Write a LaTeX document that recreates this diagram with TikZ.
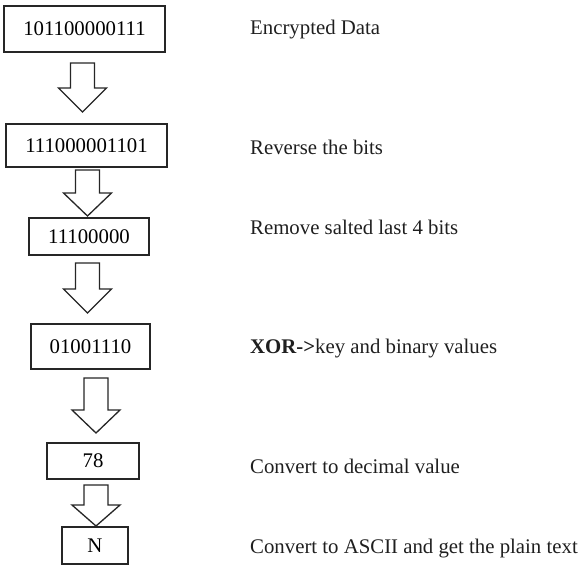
\documentclass[tikz,border=0pt]{standalone}
\usepackage{fontspec}
\setmainfont{Liberation Serif}
\usepackage{tikz}

\tikzset{
  stepbox/.style={draw=black!85, line width=1.3pt, inner sep=0pt,
    font=\fontsize{20.8}{24}\selectfont},
  steplabel/.style={anchor=base west, inner sep=0pt, text=black!88,
    font=\fontsize{20.8}{24}\selectfont},
  blockarrow/.style={draw=black!85, line width=1.3pt, fill=white}
}
% hollow down arrow: x, shaft top, head top, tip
\newcommand{\blkarrow}[4]{%
  \draw[blockarrow] ({#1-12},#2) -- ({#1+12},#2) -- ({#1+12},#3) -- ({#1+24},#3)
    -- (#1,#4) -- ({#1-24},#3) -- ({#1-12},#3) -- cycle;}

\begin{document}
\begin{tikzpicture}[x=1pt, y=-1pt]
      \useasboundingbox (0,0) rectangle (583,566);

      \node[stepbox, minimum width=161pt, minimum height=46pt] (enc) at (84.5, 29){101100000111\hspace{6pt}};
      \node[stepbox, minimum width=161pt, minimum height=43pt] (rev) at (86.5, 145.5){111000001101\hspace{6pt}};
      \node[stepbox, minimum width=120pt, minimum height=37pt] (salt) at (89, 236.5){11100000\hspace{6pt}};
      \node[stepbox, minimum width=119pt, minimum height=45pt] (xor) at (90.5, 346.5){01001110\hspace{6pt}};
      \node[stepbox, minimum width=92pt, minimum height=36pt] (dec) at (93, 461){78};
      \node[stepbox, minimum width=66pt, minimum height=37pt] (ascii) at (95, 545.5){N};

      \blkarrow{82.5}{63}{88}{112}
      \blkarrow{87.5}{170}{193}{216}
      \blkarrow{87.5}{263}{289}{313}
      \blkarrow{96}{378}{410}{433}
      \blkarrow{96}{485}{505}{526}

      \node[steplabel] (l-enc) at (250, 34){Encrypted Data};
      \node[steplabel] (l-rev) at (250, 154){Reverse the bits};
      \node[steplabel] (l-salt) at (250, 234){Remove salted last 4 bits};
      \node[steplabel] (l-xor) at (250, 353){\textbf{XOR->}key and binary values};
      \node[steplabel] (l-dec) at (250, 473){Convert to decimal value};
      \node[steplabel] (l-ascii) at (250, 553){Convert to ASCII and get the plain text};
    \end{tikzpicture}
\end{document}
